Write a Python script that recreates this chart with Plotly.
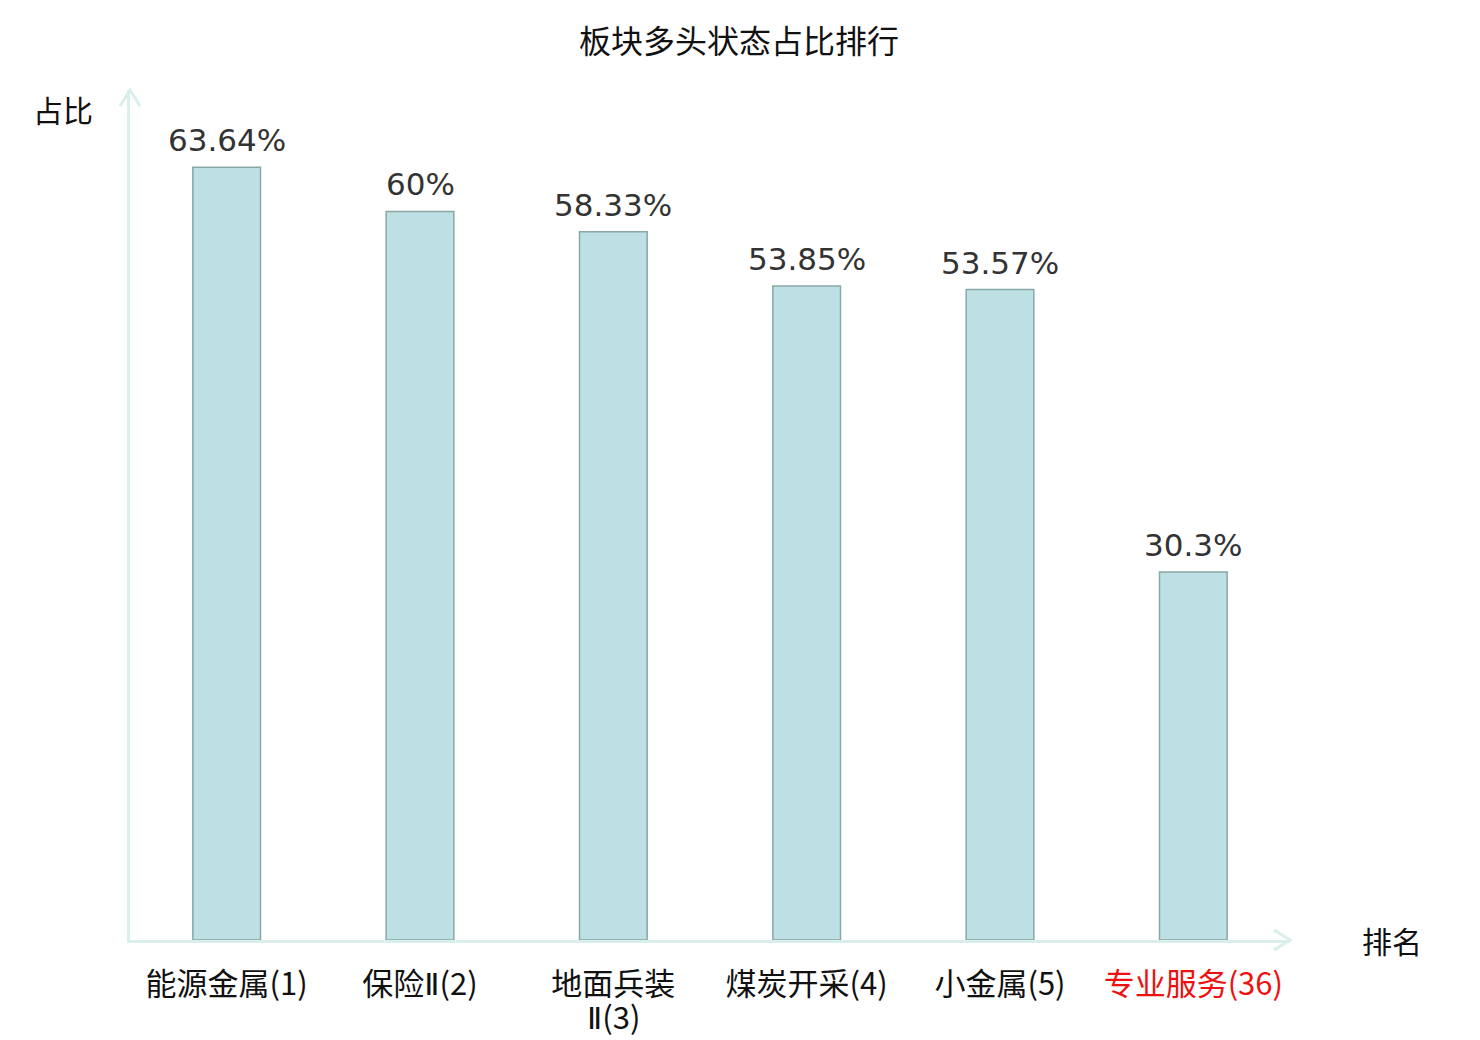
import plotly.graph_objects as go

# data
categories = ["能源金属(1)", "保险Ⅱ(2)", "地面兵装<br>Ⅱ(3)", "煤炭开采(4)", "小金属(5)", "专业服务(36)"]
values = [63.64, 60, 58.33, 53.85, 53.57, 30.3]
value_labels = ["63.64%", "60%", "58.33%", "53.85%", "53.57%", "30.3%"]
highlight = "专业服务(36)"

CJK = "Noto Sans CJK SC"
AXIS_COLOR = "#d8efec"
ROMAN = "<span style=\"font-family:'DejaVu Sans'\">Ⅱ</span>"

fig = go.Figure()
fig.add_trace(
    go.Bar(
        x=categories,
        y=values,
        width=0.35,
        marker=dict(color="#bce0e3", line=dict(color="#8aa7a7", width=1.5)),
        hoverinfo="skip",
        showlegend=False,
    )
)

for cat, val, lab in zip(categories, values, value_labels):
    fig.add_annotation(
        x=cat, y=val, text=lab, showarrow=False,
        yanchor="bottom", yshift=7,
        font=dict(family="DejaVu Sans", size=31, color="#333333"),
    )

# tick labels: first line on the axis, a wrapped second line placed just below
ticktext = []
for c in categories:
    first, _, second = c.partition("<br>")
    first = first.replace("Ⅱ", ROMAN)
    if c == highlight:
        first = f"<span style='color:#ee1111'>{first}</span>"
    ticktext.append(first)
    if second:
        fig.add_annotation(
            x=c, xref="x", yref="paper", y=0, yshift=-75, showarrow=False,
            text=second.replace("Ⅱ", ROMAN), xanchor="center", yanchor="middle",
            font=dict(family=CJK, size=31, color="#111111"),
        )

# axis arrows
fig.add_shape(
    type="path", xref="paper", yref="paper", xsizemode="pixel", ysizemode="pixel",
    xanchor=1, yanchor=0, path="M -16,10 L 0,0 L -16,-10",
    line=dict(color=AXIS_COLOR, width=3),
)
fig.add_shape(
    type="path", xref="paper", yref="paper", xsizemode="pixel", ysizemode="pixel",
    xanchor=0, yanchor=1, path="M -10,-16 L 0,0 L 10,-16",
    line=dict(color=AXIS_COLOR, width=3),
)

fig.add_annotation(
    text="占比", xref="paper", yref="paper", x=-0.058, y=0.978, showarrow=False,
    xanchor="center", yanchor="middle",
    font=dict(family=CJK, size=30, color="#111111"),
)
fig.add_annotation(
    text="排名", xref="paper", yref="paper", x=1.088, y=0.0, showarrow=False,
    xanchor="center", yanchor="middle",
    font=dict(family=CJK, size=30, color="#111111"),
)

fig.update_xaxes(
    tickvals=categories, ticktext=ticktext,
    showline=True, linecolor=AXIS_COLOR, linewidth=3,
    ticks="", ticklabelstandoff=15, automargin=False,
    tickfont=dict(family=CJK, size=31, color="#111111"),
    showgrid=False, zeroline=False,
)
fig.update_yaxes(
    range=[0, 70], showticklabels=False, showgrid=False, zeroline=False,
    showline=True, linecolor=AXIS_COLOR, linewidth=3, ticks="", automargin=False,
)
fig.update_layout(
    title=dict(text="板块多头状态占比排行", x=0.4966, xanchor="center", y=0.967, yanchor="middle",
               font=dict(family=CJK, size=32, color="#111111")),
    width=1472, height=1032,
    margin=dict(l=122, r=190, t=82, b=100),
    plot_bgcolor="white", paper_bgcolor="white",
    bargap=0.65,
)

fig.write_html("out.html")
